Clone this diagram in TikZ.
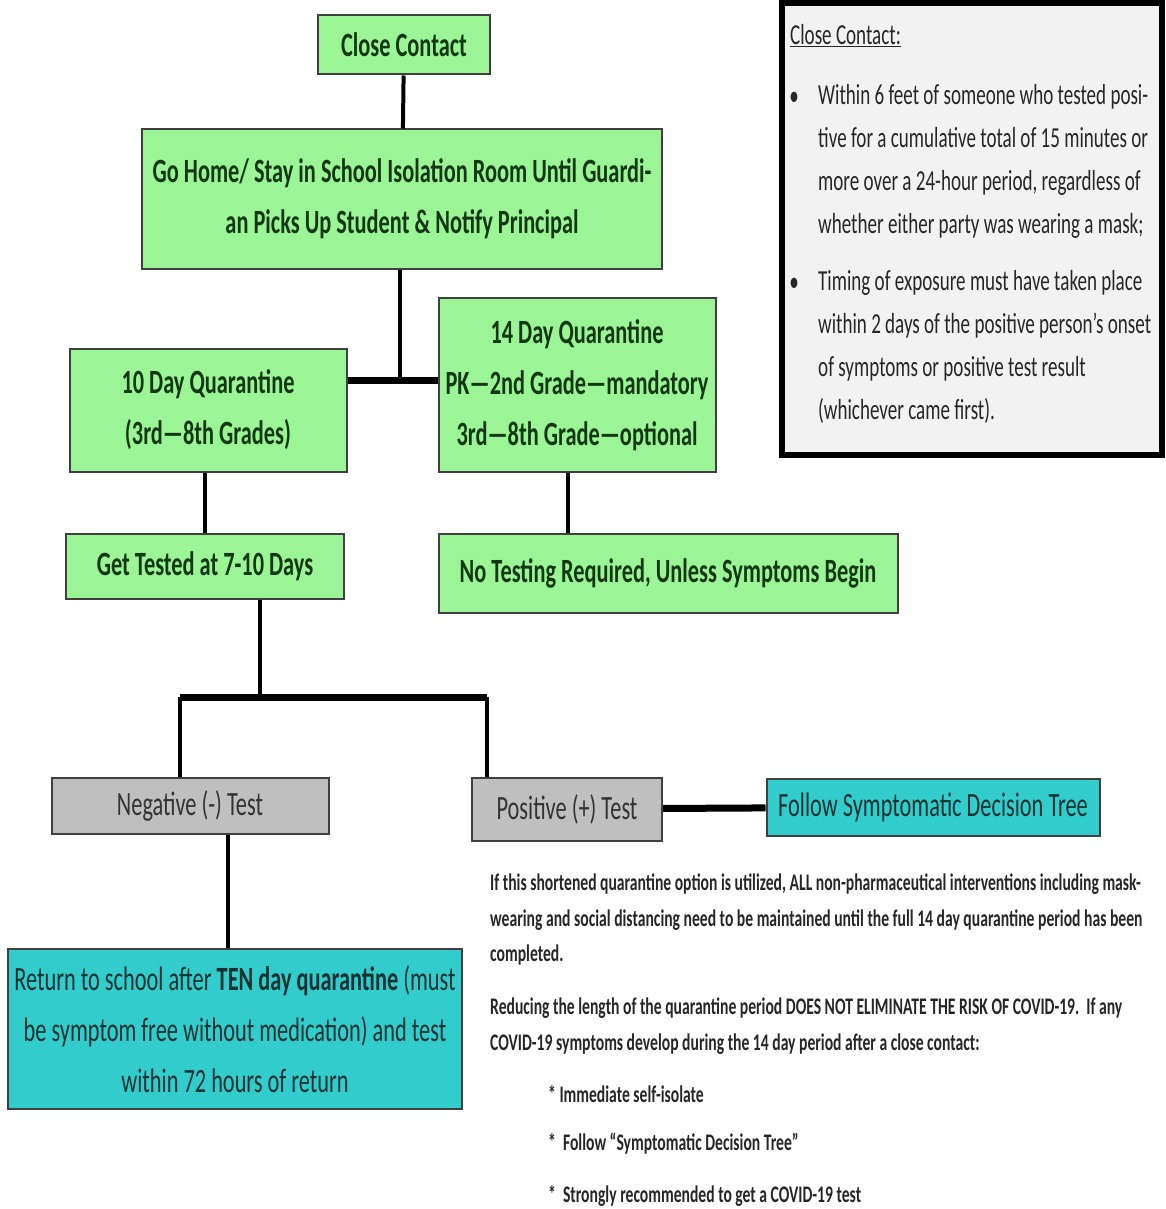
\documentclass[tikz,border=0pt]{standalone}
\usepackage{fontspec}
\setmainfont{Carlito}[FakeStretch=0.657]
\usepackage{tikz}

\definecolor{boxgreen}{RGB}{155,245,150}
\definecolor{boxteal}{RGB}{51,204,204}
\definecolor{boxgray}{RGB}{191,191,191}
\definecolor{panelgray}{RGB}{242,242,242}
\definecolor{greentext}{RGB}{20,55,20}
\definecolor{tealtext}{RGB}{15,50,50}

\tikzset{
  greenbox/.style={draw=black!75, line width=2, fill=boxgreen, text=greentext, align=center, inner sep=0,
    font=\bfseries\fontsize{34}{51}\selectfont},
  graybox/.style={draw=black!75, line width=2, fill=boxgray, text=black!80, align=center, inner sep=0,
    font=\fontsize{34}{51}\selectfont},
  tealbox/.style={draw=black!75, line width=2, fill=boxteal, text=tealtext, align=center, inner sep=0,
    font=\fontsize{34}{51}\selectfont},
  paneltext/.style={inner sep=0, align=left, text=black!85, font=\fontsize{29}{43}\selectfont},
  notetext/.style={inner sep=0, align=left, text=black!85, font=\bfseries\fontsize{23.8}{35.5}\selectfont},
  link/.style={line width=4},
  bar/.style={line width=7},
}

\begin{document}
\begin{tikzpicture}[x=1pt, y=-1pt]

\useasboundingbox (0,0) rectangle (1165,1209);

% close contact panel
\draw[line width=6, fill=panelgray] (782,3) rectangle (1162,455);
\node[paneltext, anchor=west] (paneltitle) at (790,36) {\underline{Close Contact:}};
\node[paneltext, anchor=center] (dot1) at (794,99) {•};
\node[paneltext, anchor=center] (dot2) at (794,285) {•};
\node[paneltext, anchor=north west] (item1) at (818,84)
  {Within 6 feet of someone who tested posi-\\tive for a cumulative total of 15 minutes or\\more over a 24-hour period, regardless of\\whether either party was wearing a mask;};
\node[paneltext, anchor=north west] (item2) at (818,270)
  {Timing of exposure must have taken place\\within 2 days of the positive person's onset\\of symptoms or positive test result\\(whichever came first).};

% flow nodes
\node[greenbox, minimum width=172, minimum height=59] (close) at (404,45) {Close Contact};
\node[greenbox, minimum width=520, minimum height=139] (gohome) at (402,199)
  {Go Home/ Stay in School Isolation Room Until Guardi-\\an Picks Up Student \& Notify Principal};
\node[greenbox, minimum width=277, minimum height=123] (tenday) at (208,410)
  {10 Day Quarantine\\(3rd—8th Grades)};
\node[greenbox, minimum width=277, minimum height=174] (fourteen) at (577,385)
  {14 Day Quarantine\\PK—2nd Grade—mandatory\\3rd—8th Grade—optional};
\node[greenbox, minimum width=278, minimum height=65] (tested) at (205,566) {Get Tested at 7-10 Days};
\node[greenbox, minimum width=459, minimum height=79] (notest) at (668,573) {No Testing Required, Unless Symptoms Begin};

\node[graybox, minimum width=277, minimum height=56] (negative) at (190,806) {Negative (-) Test};
\node[graybox, minimum width=190, minimum height=63] (positive) at (567,809) {Positive (+) Test};
\node[tealbox, minimum width=333, minimum height=57] (follow) at (933,807) {Follow Symptomatic Decision Tree};
\node[tealbox, minimum width=454, minimum height=160] (return) at (235,1029)
  {Return to school after \textbf{TEN day quarantine} (must\\be symptom free without medication) and test\\within 72 hours of return};

% junction points
\coordinate (split1) at (400,380);
\coordinate (split2) at (260,697);
\coordinate (negtop) at (180,697);
\coordinate (postop) at (487,697);

% connectors
\draw[link] (close) -- (gohome);
\draw[link] (gohome.south -| split1) -- (split1);
\draw[bar] (tenday.east |- split1) -- (fourteen.west |- split1);
\draw[link] (tenday.south -| tested) -- (tested.north);
\draw[link] ([xshift=-9]fourteen.south) -- ([xshift=-9]fourteen.south |- notest.north);
\draw[link] (tested.south -| split2) -- (split2);
\draw[bar] (negtop) -- (postop);
\draw[link] (negtop) -- (negtop |- negative.north);
\draw[link] (postop) -- (postop |- positive.north);
\draw[bar] (positive) -- (follow);
\draw[link] ([xshift=38]negative.south) -- ([xshift=38]negative.south |- return.north);

% notes
\node[notetext, anchor=north west] (note1) at (490,874)
  {If this shortened quarantine option is utilized, ALL non-pharmaceutical interventions including mask-\\wearing and social distancing need to be maintained until the full 14 day quarantine period has been\\completed.};
\node[notetext, anchor=north west] (note2) at (490,998)
  {Reducing the length of the quarantine period DOES NOT ELIMINATE THE RISK OF COVID-19.\ \ If any\\COVID-19 symptoms develop during the 14 day period after a close contact:};
\node[notetext, anchor=west] (step1) at (548,1094) {* Immediate self-isolate};
\node[notetext, anchor=west] (step2) at (548,1144) {*\ \ Follow “Symptomatic Decision Tree”};
\node[notetext, anchor=west] (step3) at (548,1196) {*\ \ Strongly recommended to get a COVID-19 test};

\end{tikzpicture}
\end{document}
